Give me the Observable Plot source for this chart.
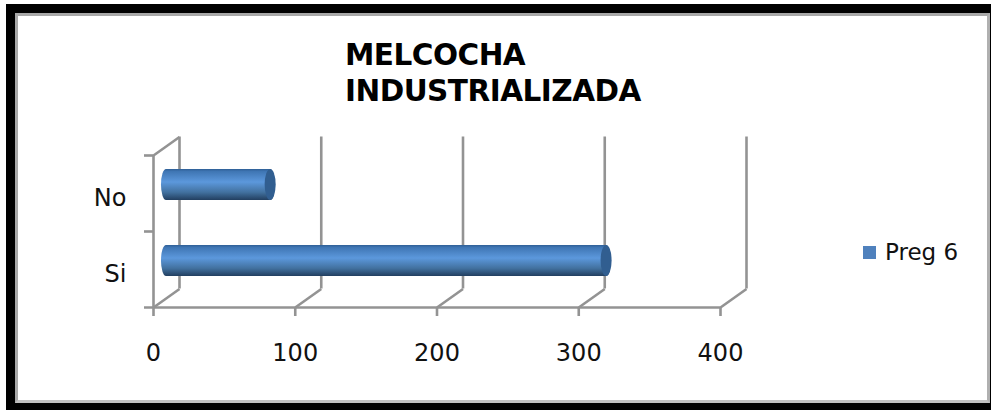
<!DOCTYPE html>
<html>
<head>
<meta charset="utf-8">
<script src="https://cdn.jsdelivr.net/npm/d3@7"></script>
<script src="https://cdn.jsdelivr.net/npm/@observablehq/plot@0.6"></script>
<style>
html,body{margin:0;padding:0;background:#fff;}
#wrap{position:relative;width:992px;height:410px;overflow:hidden;font-family:"DejaVu Sans",sans-serif;color:#111;}
#frame{position:absolute;left:6px;top:4px;width:985px;height:406px;box-sizing:border-box;background:#000;}
#inner{position:absolute;left:9px;top:9px;width:975px;height:390px;box-sizing:border-box;background:#fff;border:3px solid #a8a8a8;border-right-color:#b0b0b0;border-bottom-color:#c0c0c0;}
#chart{position:absolute;left:0;top:0;}
#title{position:absolute;left:345px;top:37px;font-weight:700;font-size:29.5px;line-height:36px;color:#000;letter-spacing:-0.5px;}
#legend{position:absolute;left:863px;top:238px;display:flex;align-items:center;font-size:23px;line-height:28px;}
#legend i{display:block;width:13px;height:13px;background:#4f81bd;margin-right:9px;}
</style>
</head>
<body>
<div id="wrap">
  <div id="frame"><div id="inner"></div></div>
  <div id="chart"></div>
  <div id="title">MELCOCHA<br>INDUSTRIALIZADA</div>
  <div id="legend"><i></i><span>Preg 6</span></div>
</div>
<script>
const categories = ["No", "Si"];
const values = [77, 314];
const xTicks = [0, 100, 200, 300, 400];
const seriesName = "Preg 6";
const rows = categories.map((c, i) => ({c, v: values[i]}));

const wall = {draw(ctx) { ctx.moveTo(0, 0); ctx.lineTo(26, -18.5); }};
const grey = "#939393";
const sw = 2.6;

const chart = Plot.plot({
  width: 992, height: 410,
  marginLeft: 153, marginRight: 272, marginTop: 155, marginBottom: 103,
  style: {background: "transparent", fontFamily: "'DejaVu Sans',sans-serif", overflow: "visible"},
  x: {domain: [0, 400], axis: null},
  y: {domain: categories, padding: 0, axis: null},
  marks: [
    () => {
      const ns = "http://www.w3.org/2000/svg";
      const defs = document.createElementNS(ns, "defs");
      const g = document.createElementNS(ns, "linearGradient");
      g.setAttribute("id", "cyl");
      g.setAttribute("x1", 0); g.setAttribute("y1", 0); g.setAttribute("x2", 0); g.setAttribute("y2", 1);
      [[0, "#2f5f96"], [0.08, "#3f76b4"], [0.42, "#5c98dc"], [0.75, "#42719f"], [1, "#223f60"]].forEach(([o, c]) => {
        const s = document.createElementNS(ns, "stop");
        s.setAttribute("offset", o); s.setAttribute("stop-color", c);
        g.appendChild(s);
      });
      defs.appendChild(g);
      return defs;
    },
    // back wall verticals
    Plot.ruleX(xTicks, {x: d => d, dx: 26, dy: -18.5, stroke: grey, strokeWidth: sw}),
    // floor diagonals
    Plot.dot(xTicks, {x: d => d, frameAnchor: "bottom", symbol: wall, r: 1, fill: "none", stroke: grey, strokeWidth: sw}),
    // side wall top diagonal
    Plot.dot(xTicks.slice(0, 1), {x: d => d, frameAnchor: "top", symbol: wall, r: 1, fill: "none", stroke: grey, strokeWidth: sw}),
    // front axes
    Plot.ruleY(categories.slice(1), {y: d => d, dy: 38, x1: 0, x2: 400, insetLeft: -9, stroke: grey, strokeWidth: sw}),
    Plot.ruleY(categories, {y: d => d, dy: -38, x1: 0, x2: 0, insetLeft: -9, stroke: grey, strokeWidth: sw}),
    Plot.ruleX(xTicks.slice(0, 1), {x: d => d, stroke: grey, strokeWidth: sw}),
    Plot.axisX({ticks: xTicks, tickSize: 9, tickPadding: 27, stroke: grey, strokeWidth: sw, strokeOpacity: 1, fill: "#111", fontSize: 24, tickFormat: d => String(d), label: null}),
    Plot.text(categories, {y: d => d, text: d => d, frameAnchor: "left", textAnchor: "end", dx: -27, dy: 5, fontSize: 24, fill: "#111"}),
    // cylinders
    Plot.barX(rows, {x1: 0, x2: "v", y: "c", insetTop: 22.5, insetBottom: 22.5, insetRight: -5, dx: 8, dy: -8.5, rx: 5, ry: 15.5, fill: "url(#cyl)", title: () => seriesName}),
    Plot.barX(rows, {x1: "v", x2: "v", y: "c", insetTop: 22.5, insetBottom: 22.5, insetLeft: -5.5, insetRight: -5.5, dx: 8, dy: -8.5, rx: 5.5, ry: 15.5, fill: "#315e90"})
  ]
});
document.getElementById("chart").appendChild(chart);
</script>
</body>
</html>
